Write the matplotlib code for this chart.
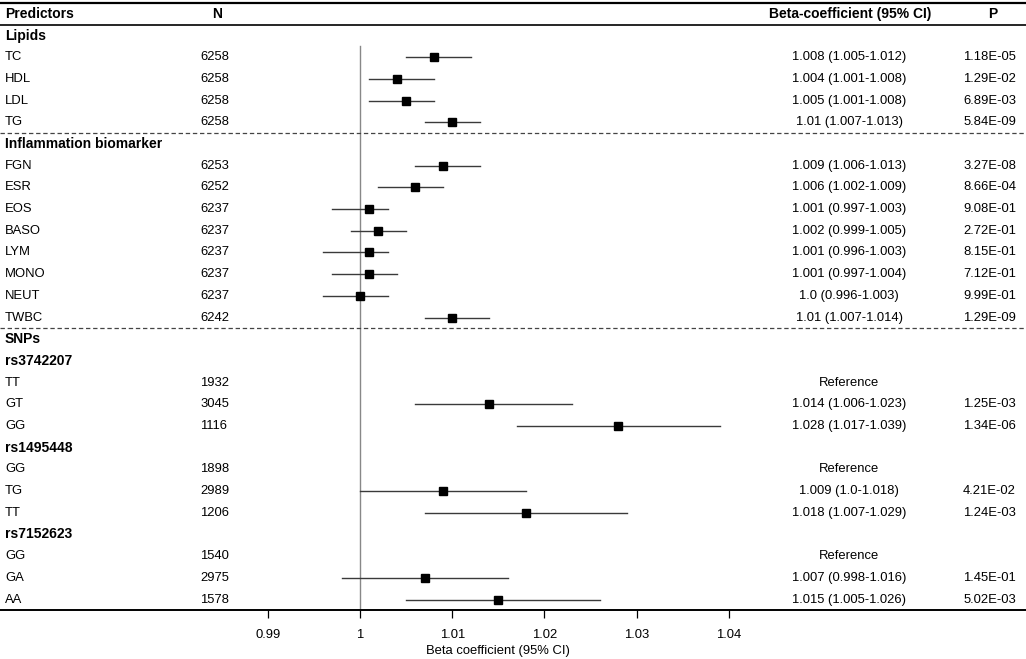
import matplotlib
matplotlib.use("Agg")
import matplotlib.pyplot as plt
import matplotlib.transforms as mtransforms

plt.rcParams['font.family'] = ['Liberation Sans', 'DejaVu Sans']

# rows of the table, top to bottom (header row is row 0)
labels = ["Lipids", "TC", "HDL", "LDL", "TG",
          "Inflammation biomarker", "FGN", "ESR", "EOS", "BASO", "LYM", "MONO", "NEUT", "TWBC",
          "SNPs", "rs3742207", "TT", "GT", "GG",
          "rs1495448", "GG", "TG", "TT",
          "rs7152623", "GG", "GA", "AA"]
n_vals = [None, 6258, 6258, 6258, 6258,
          None, 6253, 6252, 6237, 6237, 6237, 6237, 6237, 6242,
          None, None, 1932, 3045, 1116,
          None, 1898, 2989, 1206,
          None, 1540, 2975, 1578]
est = [None, 1.008, 1.004, 1.005, 1.01,
       None, 1.009, 1.006, 1.001, 1.002, 1.001, 1.001, 1.0, 1.01,
       None, None, None, 1.014, 1.028,
       None, None, 1.009, 1.018,
       None, None, 1.007, 1.015]
lo = [None, 1.005, 1.001, 1.001, 1.007,
      None, 1.006, 1.002, 0.997, 0.999, 0.996, 0.997, 0.996, 1.007,
      None, None, None, 1.006, 1.017,
      None, None, 1.0, 1.007,
      None, None, 0.998, 1.005]
hi = [None, 1.012, 1.008, 1.008, 1.013,
      None, 1.013, 1.009, 1.003, 1.005, 1.003, 1.004, 1.003, 1.014,
      None, None, None, 1.023, 1.039,
      None, None, 1.018, 1.029,
      None, None, 1.016, 1.026]
p_vals = [None, "1.18E-05", "1.29E-02", "6.89E-03", "5.84E-09",
          None, "3.27E-08", "8.66E-04", "9.08E-01", "2.72E-01", "8.15E-01", "7.12E-01", "9.99E-01", "1.29E-09",
          None, None, None, "1.25E-03", "1.34E-06",
          None, None, "4.21E-02", "1.24E-03",
          None, None, "1.45E-01", "5.02E-03"]
x_ticks = [0.99, 1.0, 1.01, 1.02, 1.03, 1.04]
x_tick_labels = ["0.99", "1", "1.01", "1.02", "1.03", "1.04"]

fig = plt.figure(figsize=(10.26, 6.59), dpi=100)
ax = fig.add_axes([0, 0.0751, 1, 0.9203])

# x: 1.00 at 360 px, 0.01 per 92.2 px
ax.set_xlim(1 - 360 / 9220, 1 + (1026 - 360) / 9220)
ax.set_ylim(27.46, -0.5)

fs = 9.4
fsb = 10
tr = mtransforms.blended_transform_factory(ax.transAxes, ax.transData)

# header
ax.text(5 / 1026, 0, "Predictors", transform=tr, fontsize=fsb, fontweight='bold', va='center')
ax.text(217 / 1026, 0, "N", transform=tr, fontsize=fsb, fontweight='bold', va='center', ha='center')
ax.text(850 / 1026, 0, "Beta-coefficient (95% CI)", transform=tr, fontsize=fsb, fontweight='bold',
        va='center', ha='center')
ax.text(993 / 1026, 0, "P", transform=tr, fontsize=fsb, fontweight='bold', va='center', ha='center')
ax.axhline(0.5, color='black', lw=1.2)

for i, lab in enumerate(labels):
    y = i + 1
    if n_vals[i] is None:
        ax.text(5 / 1026, y, lab, transform=tr, fontsize=fsb, fontweight='bold', va='center')
        continue
    ax.text(5 / 1026, y, lab, transform=tr, fontsize=fs, va='center')
    ax.text(200 / 1026, y, str(n_vals[i]), transform=tr, fontsize=fs, va='center')
    if est[i] is None:
        ax.text(849 / 1026, y, "Reference", transform=tr, fontsize=fs, va='center', ha='center')
        continue
    ax.text(849 / 1026, y, f"{est[i]} ({lo[i]}-{hi[i]})", transform=tr, fontsize=fs,
            va='center', ha='center')
    ax.text(1016 / 1026, y, p_vals[i], transform=tr, fontsize=fs, va='center', ha='right')
    ax.plot([lo[i], hi[i]], [y, y], color='#3a3a3a', lw=1.0, zorder=2)
    ax.plot(est[i], y, marker='s', markersize=5.6, color='black', zorder=3)

# section separators
for ysep in [5.5, 14.5]:
    ax.axhline(ysep, color='#444444', lw=0.9, linestyle=(0, (3.5, 2.2)))

ax.plot([1, 1], [1.5, 27.46], color='#888888', lw=1.0, zorder=1)

for s in ['left', 'right']:
    ax.spines[s].set_visible(False)
ax.spines['top'].set_linewidth(1.6)
ax.spines['bottom'].set_linewidth(1.4)
ax.set_yticks([])
ax.set_xticks(x_ticks)
ax.set_xticklabels(x_tick_labels, fontsize=fs)
ax.tick_params(axis='x', direction='out', length=5.5, width=0.9, pad=8.5)

xl_tr = mtransforms.blended_transform_factory(ax.transData, fig.transFigure)
ax.text(1.015, 1 - 651 / 659, "Beta coefficient (95% CI)", transform=xl_tr, fontsize=fs,
        ha='center', va='center')

fig.savefig("out.png", dpi=100)
